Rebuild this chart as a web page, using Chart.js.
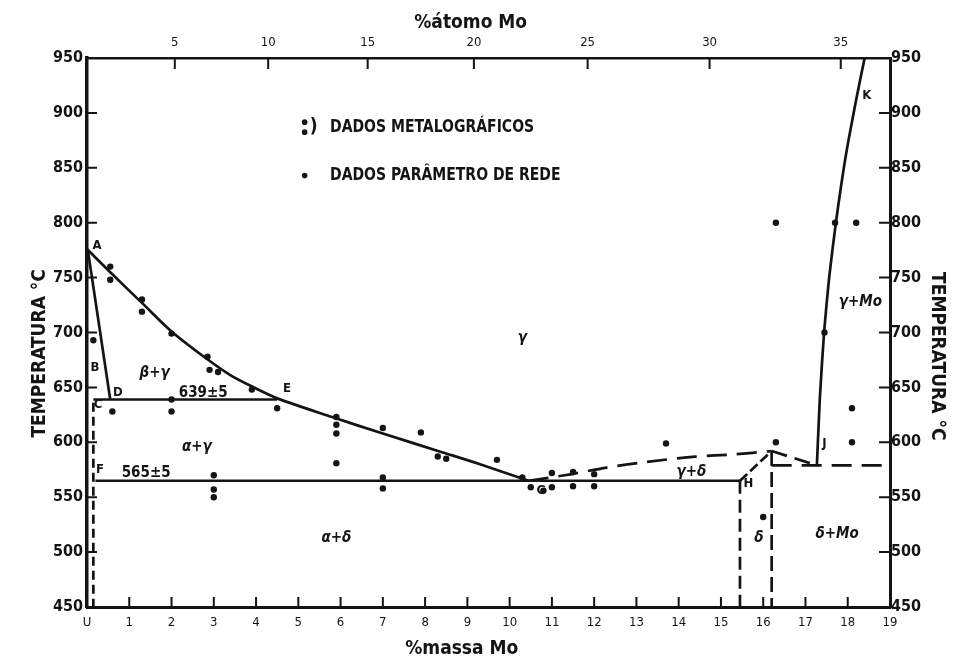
<!DOCTYPE html>
<html><head><meta charset="utf-8">
<script src="https://cdn.jsdelivr.net/npm/chart.js@4.4.1/dist/chart.umd.min.js"></script>
<style>html,body{margin:0;padding:0;background:#fff;}</style>
</head><body>
<canvas id="c" width="957" height="660"></canvas>
<script>
// ---------------- data ----------------
const massTicks = [0,1,2,3,4,5,6,7,8,9,10,11,12,13,14,15,16,17,18,19];
const massTickLabels = ['U','1','2','3','4','5','6','7','8','9','10','11','12','13','14','15','16','17','18','19'];
const tempTicks = [450,500,550,600,650,700,750,800,850,900,950];
const atomTickLabels = [5,10,15,20,25,30,35];
const MASS_MO = 95.95, MASS_U = 238.03;

// phase boundaries (wt% Mo, °C)
const gammaSolvusMass = [0, 0.6, 1.3, 2.0, 2.8, 3.4, 4.0, 4.5, 5.8, 7.0, 8.4, 9.3, 10.45];
const gammaSolvusTemp = [776, 753, 727, 701, 677, 661, 649, 640, 623, 608, 591, 580, 565];
const betaBoundMass = [0.02, 0.55];
const betaBoundTemp = [775, 639];
const eut639Mass = [0.15, 4.5];
const eut639Temp = [639, 639];
const eut565Mass = [0.2, 15.45];
const eut565Temp = [565, 565];
const alphaBoundMass = [0.15, 0.15];
const alphaBoundTemp = [636, 450];
const gammaDeltaMass = [10.45, 11.3, 12.3, 13.2, 14.4, 15.3, 16.2];
const gammaDeltaTemp = [565, 570, 577, 582, 587, 589, 592];
const peakToJMass = [16.2, 17.27];
const peakToJTemp = [592, 579];
const hToPeakMass = [15.45, 16.2];
const hToPeakTemp = [565, 592];
const hVertMass = [15.45, 15.45];
const hVertTemp = [565, 450];
const deltaVertMass = [16.2, 16.2];
const deltaVertTemp = [592, 450];
const line578Mass = [16.2, 19];
const line578Temp = [579, 579];
const moSolvusMass = [17.27, 17.34, 17.44, 17.56, 17.72, 17.95, 18.2, 18.4];
const moSolvusTemp = [579, 640, 700, 750, 800, 860, 912, 950];

// experimental points
const pointMass = [0.15,0.55,0.55,1.3,1.3,2.0,2.85,2.9,3.1,3.9,4.5,2.0,2.0,0.6,3.0,3.0,3.0,5.9,5.9,5.9,5.9,7.0,7.0,7.0,7.9,8.3,8.5,9.7,10.3,10.5,10.8,11.0,11.0,11.5,11.5,12.0,12.0,13.7,16.3,16.0,18.1,18.1,17.45,16.3,17.7,18.2];
const pointTemp = [693,760,748,730,719,699,678,666,664,648,631,639,628,628,570,557,550,623,616,608,581,613,568,558,609,587,585,584,568,559,556,559,572,573,560,571,560,599,600,532,631,600,700,800,800,800];

// text inside the diagram
const regionLabels = ['γ','β+γ','639±5','α+γ','565±5','α+δ','γ+δ','δ','δ+Mo','γ+Mo'];
const regionLabelMass = [10.3, 1.6, 2.75, 2.6, 1.4, 5.9, 14.3, 15.9, 17.75, 18.3];
const regionLabelTemp = [695, 663, 645, 596, 572, 513, 573, 513, 516, 728];
const letterLabels = ['A','B','C','D','E','F','G','H','J','K'];
const letterMass = [0.24, 0.19, 0.26, 0.73, 4.73, 0.31, 10.75, 15.65, 17.45, 18.45];
const letterTemp = [779, 668, 634, 645, 649, 575, 556, 562, 599, 916];
const legendTexts = ['DADOS METALOGRÁFICOS', 'DADOS PARÂMETRO DE REDE'];

// ---------------- helpers ----------------
const INK = '#141414';
const FONT = "'DejaVu Sans Condensed','Liberation Sans Narrow',sans-serif";
function atomToMass(a){ const m = a*MASS_MO; return 100*m/(m + (100-a)*MASS_U); }
function pts(xs, ys){ return xs.map((x,i)=>({x:x, y:ys[i]})); }
function line(xs, ys, dash, tension){
  return { data: pts(xs, ys), showLine: true, pointRadius: 0, borderColor: INK,
    borderWidth: 2.7, borderDash: dash || [], fill: false, tension: tension || 0 };
}

const datasets = [
  { data: pts(pointMass, pointTemp), pointRadius: 3.2, pointBackgroundColor: INK, pointBorderWidth: 0, showLine: false },
  line(gammaSolvusMass, gammaSolvusTemp, null, 0.3),
  line(betaBoundMass, betaBoundTemp),
  line(eut639Mass, eut639Temp),
  line(eut565Mass, eut565Temp),
  line(alphaBoundMass, alphaBoundTemp, [9,5]),
  line(gammaDeltaMass, gammaDeltaTemp, [20,10], 0.3),
  line(peakToJMass, peakToJTemp, [16,8]),
  line(hToPeakMass, hToPeakTemp, [10,4]),
  line(hVertMass, hVertTemp, [13,6]),
  line(deltaVertMass, deltaVertTemp, [15,6]),
  line(line578Mass, line578Temp, [20,10]),
  line(moSolvusMass, moSolvusTemp, null, 0.2)
];

const innerTicks = {
  id: 'innerTicks',
  afterDraw(chart){
    const c = chart.ctx, a = chart.chartArea, s = chart.scales;
    c.save(); c.strokeStyle = INK; c.lineWidth = 2; c.beginPath();
    s.x.ticks.forEach(t => { const p = s.x.getPixelForValue(t.value); c.moveTo(p, a.bottom); c.lineTo(p, a.bottom - 10); });
    s.xTop.ticks.forEach(t => { const p = s.xTop.getPixelForValue(t.value); c.moveTo(p, a.top); c.lineTo(p, a.top + 11); });
    s.y.ticks.forEach(t => { const p = s.y.getPixelForValue(t.value); c.moveTo(a.left, p); c.lineTo(a.left + 10, p); });
    s.yRight.ticks.forEach(t => { const p = s.yRight.getPixelForValue(t.value); c.moveTo(a.right, p); c.lineTo(a.right - 11, p); });
    c.stroke(); c.restore();
  }
};

const diagramText = {
  id: 'diagramText',
  afterDraw(chart){
    const c = chart.ctx, sx = chart.scales.x, sy = chart.scales.y;
    c.save(); c.fillStyle = INK; c.textAlign = 'center'; c.textBaseline = 'middle';
    regionLabels.forEach((t,i) => {
      c.font = (/[αβγδ]/.test(t) ? 'italic bold ' : 'bold ') + '15px ' + FONT;
      c.fillText(t, sx.getPixelForValue(regionLabelMass[i]), sy.getPixelForValue(regionLabelTemp[i]));
    });
    c.font = 'bold 13px ' + FONT;
    letterLabels.forEach((t,i) => c.fillText(t, sx.getPixelForValue(letterMass[i]), sy.getPixelForValue(letterTemp[i])));
    // legend
    const lx = sx.getPixelForValue(5.15), tx = sx.getPixelForValue(5.75);
    const r1 = sy.getPixelForValue(887), r2 = sy.getPixelForValue(843);
    c.beginPath(); c.arc(lx, r1 - 5, 2.8, 0, Math.PI*2); c.arc(lx, r1 + 5, 2.8, 0, Math.PI*2); c.fill();
    c.beginPath(); c.arc(lx, r2, 2.8, 0, Math.PI*2); c.fill();
    c.font = 'bold 19px ' + FONT; c.textAlign = 'left';
    c.fillText(')', lx + 5, r1);
    [r1, r2].forEach((r, i) => {
      c.save(); c.translate(tx, r); c.scale(0.865, 1);
      c.font = 'bold 18px ' + FONT;
      c.fillText(legendTexts[i], 0, 0);
      c.restore();
    });
    c.restore();
  }
};

const axisTitleFont = { family: FONT, size: 19, weight: 'bold' };
const heavyTick = { family: FONT, size: 16, weight: 'bold' };
const lightTick = { family: FONT, size: 13 };

new Chart(document.getElementById('c'), {
  type: 'scatter',
  data: { datasets },
  plugins: [innerTicks, diagramText],
  options: {
    responsive: false, animation: false,
    layout: { padding: 0 },
    plugins: { legend: { display: false }, tooltip: { enabled: false } },
    scales: {
      x: {
        type: 'linear', position: 'bottom', min: 0, max: 19,
        afterBuildTicks: s => { s.ticks = massTicks.map(v => ({ value: v })); },
        afterFit: s => { s.height = 53; },
        grid: { display: false, drawTicks: false },
        border: { display: true, color: INK, width: 3 },
        ticks: { callback: (v, i) => massTickLabels[i], padding: 8, color: INK, font: lightTick, maxRotation: 0, autoSkip: false },
        title: { display: true, text: '%massa Mo         ', color: INK, font: axisTitleFont, padding: { top: 0, bottom: 0 } }
      },
      xTop: {
        type: 'linear', position: 'top', min: 0, max: 19,
        afterBuildTicks: s => { s.ticks = atomTickLabels.map(a => ({ value: atomToMass(a) })); },
        afterFit: s => { s.height = 58; },
        grid: { display: false, drawTicks: false },
        border: { display: true, color: INK, width: 2.6 },
        ticks: { callback: (v, i) => String(atomTickLabels[i]), padding: 8, color: INK, font: lightTick, maxRotation: 0, autoSkip: false },
        title: { display: true, text: '%átomo Mo      ', color: INK, font: axisTitleFont, padding: { top: 11.5, bottom: 0 } }
      },
      y: {
        type: 'linear', position: 'left', min: 450, max: 950,
        afterBuildTicks: s => { s.ticks = tempTicks.map(v => ({ value: v })); },
        afterFit: s => { s.width = 87; },
        grid: { display: false, drawTicks: false },
        border: { display: true, color: INK, width: 3.5 },
        ticks: { padding: 4, color: INK, font: heavyTick, autoSkip: false },
        title: { display: true, text: 'TEMPERATURA °C       ', color: INK, font: axisTitleFont, padding: { top: 28.5, bottom: 0 } }
      },
      yRight: {
        type: 'linear', position: 'right', min: 450, max: 950,
        afterBuildTicks: s => { s.ticks = tempTicks.map(v => ({ value: v })); },
        afterFit: s => { s.width = 67; },
        grid: { display: false, drawTicks: false },
        border: { display: true, color: INK, width: 3 },
        ticks: { padding: 1, color: INK, font: heavyTick, autoSkip: false },
        title: { display: true, text: '        TEMPERATURA °C', color: INK, font: axisTitleFont, padding: { top: 8.5, bottom: 0 } }
      }
    }
  }
});
</script>
</body></html>
